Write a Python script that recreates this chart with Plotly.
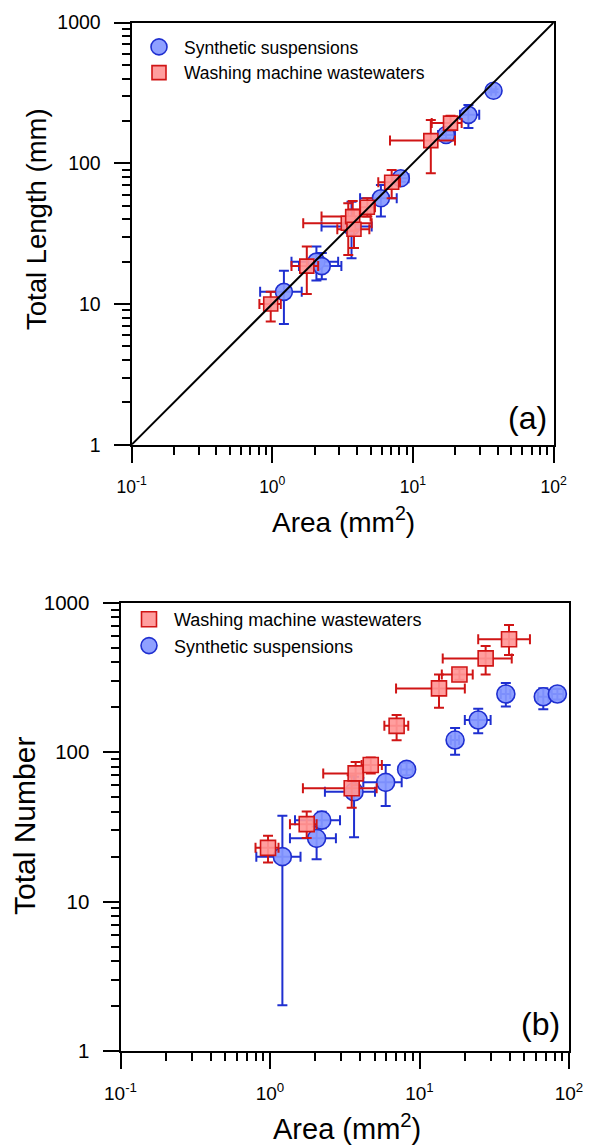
import plotly.graph_objects as go

# ---------------- Panel (a): Total Length vs Area ----------------
syn_a_area = [1.21, 2.06, 2.25, 3.66, 5.92, 8.20, 17.2, 24.8, 37.4]
syn_a_area_lo = [0.82, 1.37, 1.55, 2.24, 4.21, 7.40, 15.1, 21.6, 36.0]
syn_a_area_hi = [1.62, 2.94, 3.10, 5.09, 7.67, 9.30, 19.9, 29.6, 38.8]
syn_a_len = [12.2, 20.0, 18.6, 35.5, 56.5, 78.3, 159, 221, 328]
syn_a_len_lo = [7.2, 14.7, 15.0, 21.1, 41.8, 74.0, 150, 178, 320]
syn_a_len_hi = [17.2, 25.6, 23.0, 53.4, 70.2, 83.0, 170, 260, 336]

wash_a_area = [0.975, 1.76, 3.47, 3.73, 3.81, 4.74, 7.06, 13.4, 18.5]
wash_a_area_lo = [0.81, 1.37, 1.66, 2.24, 2.90, 4.21, 5.67, 6.87, 13.6]
wash_a_area_hi = [1.15, 2.12, 5.09, 5.00, 4.90, 5.37, 8.09, 19.9, 22.2]
wash_a_len = [10.0, 18.6, 37.5, 41.8, 34.0, 48.7, 73.3, 145, 193]
wash_a_len_lo = [7.5, 11.8, 22.3, 33.0, 25.0, 41.8, 56.5, 85, 172]
wash_a_len_hi = [12.2, 25.6, 52.0, 54.0, 47.0, 56.5, 89.7, 203, 218]

# ---------------- Panel (b): Total Number vs Area ----------------
wash_b_area = [0.97, 1.76, 3.52, 3.74, 4.72, 7.03, 13.5, 18.5, 27.7, 39.7]
wash_b_area_lo = [0.80, 1.36, 1.66, 2.27, 4.10, 5.82, 6.97, 14.1, 14.3, 24.7]
wash_b_area_hi = [1.14, 2.05, 5.17, 4.21, 5.60, 8.41, 20.1, 22.7, 41.4, 54.8]
wash_b_num = [22.9, 33.0, 57.3, 72.1, 82.0, 150, 267, 331, 424, 569]
wash_b_num_lo = [18.3, 26.7, 42.5, 60.0, 72.0, 120, 198, 305, 331, 446]
wash_b_num_hi = [27.6, 40.1, 70.0, 86.0, 92.0, 177, 331, 360, 513, 708]

syn_b_area = [1.21, 2.05, 2.22, 3.65, 5.94, 8.20, 17.3, 24.7, 37.8, 67.3, 83.6]
syn_b_area_lo = [0.81, 1.36, 1.47, 2.33, 4.21, 7.50, 16.2, 20.1, 35.0, 62.0, 76.6]
syn_b_area_hi = [1.60, 2.76, 2.94, 5.04, 7.60, 9.00, 18.4, 29.9, 40.5, 73.0, 91.6]
syn_b_num = [20.0, 26.5, 35.1, 54.3, 62.8, 76.7, 120.5, 164, 245, 235, 245]
syn_b_num_lo = [2.03, 19.2, 31.0, 27.0, 43.7, 70.0, 96, 134, 202, 194, 225]
syn_b_num_hi = [37.5, 31.8, 40.0, 68.5, 82.0, 85.0, 145, 195, 290, 268, 265]

# 1:1 reference line (Length = 10 x Area)
line_area = [0.1, 100]
line_len = [1, 1000]

x_tickvals = [0.1, 1, 10, 100]
x_ticktext = ["10<sup>-1</sup>", "10<sup>0</sup>", "10<sup>1</sup>", "10<sup>2</sup>"]
y_tickvals = [1, 10, 100, 1000]
y_ticktext = ["1", "10", "100", "1000"]

BLUE_FILL = "rgba(134,152,255,0.92)"
BLUE_LINE = "#1f2fd0"
RED_FILL = "rgba(255,150,150,0.92)"
RED_LINE = "#d01515"
FONT = "Liberation Sans, Arial, sans-serif"

# The page body has an 8 px margin, so the figure is made 8 px smaller
# and every target page position is shifted by that offset.
OFF = 8
W, H = 592 - OFF, 1146 - OFF


def fx(px):
    return (px - OFF) / W


def fy(py):
    return 1 - (py - OFF) / H


def err(vals, lo, hi):
    plus = [h - v for v, h in zip(vals, hi)]
    minus = [v - l for v, l in zip(vals, lo)]
    return plus, minus


def scatter(xv, xlo, xhi, yv, ylo, yhi, name, symbol, size, fill, edge,
            xa, ya, legend):
    xp, xm = err(xv, xlo, xhi)
    yp, ym = err(yv, ylo, yhi)
    return go.Scatter(
        x=xv, y=yv, mode="markers", name=name, xaxis=xa, yaxis=ya,
        legend=legend,
        marker=dict(symbol=symbol, size=size, color=fill,
                    line=dict(color=edge, width=1.6)),
        error_x=dict(type="data", symmetric=False, array=xp, arrayminus=xm,
                     color=edge, thickness=2, width=5),
        error_y=dict(type="data", symmetric=False, array=yp, arrayminus=ym,
                     color=edge, thickness=2, width=5),
    )


fig = go.Figure()

# Panel (a)
fig.add_trace(scatter(syn_a_area, syn_a_area_lo, syn_a_area_hi,
                      syn_a_len, syn_a_len_lo, syn_a_len_hi,
                      "Synthetic suspensions", "circle", 17,
                      BLUE_FILL, BLUE_LINE, "x", "y", "legend"))
fig.add_trace(scatter(wash_a_area, wash_a_area_lo, wash_a_area_hi,
                      wash_a_len, wash_a_len_lo, wash_a_len_hi,
                      "Washing machine wastewaters", "square", 14,
                      RED_FILL, RED_LINE, "x", "y", "legend"))
fig.add_trace(go.Scatter(x=line_area, y=line_len, mode="lines",
                         line=dict(color="black", width=2),
                         showlegend=False, xaxis="x", yaxis="y",
                         hoverinfo="skip"))

# Panel (b)
fig.add_trace(scatter(syn_b_area, syn_b_area_lo, syn_b_area_hi,
                      syn_b_num, syn_b_num_lo, syn_b_num_hi,
                      "Synthetic suspensions", "circle", 18,
                      BLUE_FILL, BLUE_LINE, "x2", "y2", "legend2"))
fig.add_trace(scatter(wash_b_area, wash_b_area_lo, wash_b_area_hi,
                      wash_b_num, wash_b_num_lo, wash_b_num_hi,
                      "Washing machine wastewaters", "square", 15,
                      RED_FILL, RED_LINE, "x2", "y2", "legend2"))


def minor_vals():
    out = []
    for k in (0.1, 1, 10, 100):
        for m in range(2, 10):
            out.append(k * m)
    return out


def axis_common(domain, anchor, tickvals, ticktext, fsize, standoff):
    return dict(
        type="log", domain=domain, anchor=anchor,
        tickmode="array", tickvals=tickvals, ticktext=ticktext,
        ticks="outside", ticklen=16, tickwidth=2, tickcolor="black",
        minor=dict(ticks="outside", ticklen=8, tickwidth=2,
                   tickcolor="black", tickmode="array",
                   tickvals=minor_vals()),
        showline=True, linecolor="black", linewidth=2, mirror=True,
        showgrid=False, zeroline=False,
        tickfont=dict(family=FONT, size=fsize, color="black"),
        ticklabelstandoff=standoff,
        automargin=False,
    )


ax_a_x = axis_common([fx(131.6), fx(553.6)], "y", x_tickvals, x_ticktext, 17.5, 9)
ax_a_x["range"] = [-1, 2]
ax_a_y = axis_common([fy(444.7), fy(22.6)], "x", y_tickvals, y_ticktext, 19.5, 9)
ax_a_y["range"] = [0, 3]
ax_b_x = axis_common([fx(120.5), fx(569)], "y2", x_tickvals, x_ticktext, 19, 8)
ax_b_x["range"] = [-1, 2]
ax_b_y = axis_common([fy(1051.1), fy(602.7)], "x2", y_tickvals, y_ticktext, 20.5, 9)
ax_b_y["range"] = [0, 3]

annotations = [
    dict(text="Total Length (mm)", x=fx(37), y=fy(219), xref="paper", yref="paper",
         textangle=-90, showarrow=False, xanchor="center", yanchor="middle",
         font=dict(family=FONT, size=27.5, color="black")),
    dict(text="Area (mm<sup>2</sup>)", x=fx(343), y=fy(520), xref="paper", yref="paper",
         showarrow=False, xanchor="center", yanchor="middle",
         font=dict(family=FONT, size=28, color="black")),
    dict(text="(a)", x=fx(549), y=fy(418), xref="paper", yref="paper",
         showarrow=False, xanchor="right", yanchor="middle",
         font=dict(family=FONT, size=32, color="black")),
    dict(text="Total Number", x=fx(24), y=fy(826), xref="paper", yref="paper",
         textangle=-90, showarrow=False, xanchor="center", yanchor="middle",
         font=dict(family=FONT, size=30, color="black")),
    dict(text="Area (mm<sup>2</sup>)", x=fx(347), y=fy(1127), xref="paper", yref="paper",
         showarrow=False, xanchor="center", yanchor="middle",
         font=dict(family=FONT, size=29, color="black")),
    dict(text="(b)", x=fx(562), y=fy(1024), xref="paper", yref="paper",
         showarrow=False, xanchor="right", yanchor="middle",
         font=dict(family=FONT, size=32, color="black")),
]

fig.update_layout(
    width=W, height=H,
    margin=dict(l=0, r=0, t=0, b=0, pad=0),
    paper_bgcolor="white", plot_bgcolor="white",
    font=dict(family=FONT, color="black"),
    xaxis=ax_a_x, yaxis=ax_a_y, xaxis2=ax_b_x, yaxis2=ax_b_y,
    annotations=annotations,
    legend=dict(x=fx(134), y=fy(29), xanchor="left", yanchor="top",
                bgcolor="rgba(0,0,0,0)", borderwidth=0, itemwidth=40,
                traceorder="normal",
                font=dict(family=FONT, size=17.5, color="black")),
    legend2=dict(x=fx(124), y=fy(601), xanchor="left", yanchor="top",
                 bgcolor="rgba(0,0,0,0)", borderwidth=0, itemwidth=40,
                 traceorder="reversed",
                 font=dict(family=FONT, size=18, color="black")),
    showlegend=True,
)

fig.write_html("out.html")
